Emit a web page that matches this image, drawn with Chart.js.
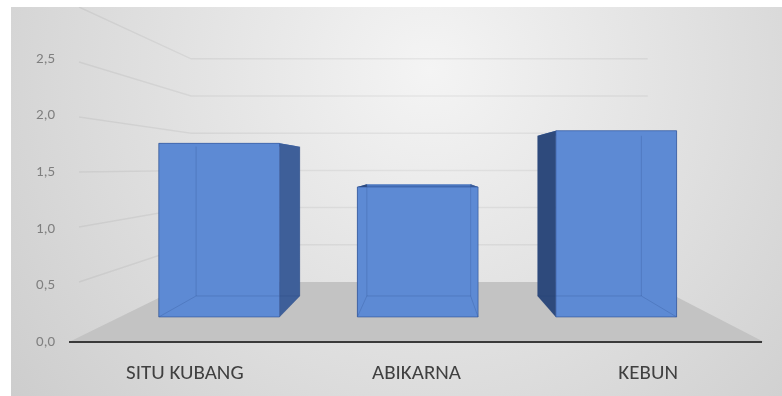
<!DOCTYPE html>
<html>
<head>
<meta charset="utf-8">
<script src="https://cdn.jsdelivr.net/npm/chart.js@4.4.1/dist/chart.umd.min.js"></script>
<style>
	body { margin: 0; background: #fff; }
</style>
</head>
<body>
<canvas id="chart" width="782" height="396"></canvas>
<script>
var categories = ["SITU KUBANG", "ABIKARNA", "KEBUN"];
var values = [1.79, 1.34, 1.92];
var yTicks = [0, 0.5, 1.0, 1.5, 2.0, 2.5];
var wallLines = [0.5, 1.0, 1.5, 2.0, 2.5, 3.0];

// perspective: vanishing point and depth factors (front plane = 1)
var vp = { x : 425, y : 167 };
var floorDepth = 0.657;
var barFront = 0.857;
var barBack = 0.737;

function proj(x, y, s) {
	return [vp.x + s * (x - vp.x), vp.y + s * (y - vp.y)];
}

function poly(ctx, pts, fill) {
	ctx.beginPath();
	ctx.moveTo(pts[0][0], pts[0][1]);
	for (var i = 1; i < pts.length; i++) ctx.lineTo(pts[i][0], pts[i][1]);
	ctx.closePath();
	ctx.fillStyle = fill;
	ctx.fill();
}

var scene = {
	id : "scene",
	beforeDraw : function(chart) {
		var ctx = chart.ctx, area = chart.chartArea, y = chart.scales.y;
		var w = chart.width, h = chart.height;
		ctx.save();
		ctx.fillStyle = "#fff";
		ctx.fillRect(0, 0, w, h);
		var g = ctx.createRadialGradient(430, 70, 0, 430, 70, 560);
		g.addColorStop(0, "#f4f4f4");
		g.addColorStop(1, "#cbcbcb");
		ctx.fillStyle = g;
		ctx.fillRect(11, 7, w - 11, h - 7);

		ctx.beginPath();
		ctx.rect(11, 7, w - 11, h - 7);
		ctx.clip();

		// floor
		var bl = proj(area.left, area.bottom, floorDepth);
		var br = proj(area.right, area.bottom, floorDepth);
		poly(ctx, [[area.left, area.bottom], bl, br, [area.right, area.bottom]], "#c3c3c3");

		// side and back wall grid lines
		ctx.strokeStyle = "rgba(0,0,0,0.055)";
		ctx.lineWidth = 1.5;
		wallLines.forEach(function(v) {
			var py = y.getPixelForValue(v);
			var a = proj(area.left, py, floorDepth), b = proj(area.right, py, floorDepth);
			ctx.beginPath();
			ctx.moveTo(area.left + 10, py + 10 * (a[1] - py) / (a[0] - area.left));
			ctx.lineTo(a[0], a[1]);
			ctx.lineTo(b[0], b[1]);
			ctx.stroke();
		});

		// category axis line
		ctx.strokeStyle = "#3a3a3a";
		ctx.lineWidth = 2;
		ctx.beginPath();
		ctx.moveTo(area.left, area.bottom);
		ctx.lineTo(area.right - 2, area.bottom);
		ctx.stroke();
		ctx.restore();
	},
	afterDatasetsDraw : function(chart) {
		var ctx = chart.ctx;
		var meta = chart.getDatasetMeta(0);
		ctx.save();
		meta.data.forEach(function(bar) {
			var half = bar.width / 2;
			var l = bar.x - half, r = bar.x + half, t = bar.y, b = bar.base;
			var fTL = proj(l, t, barFront), fTR = proj(r, t, barFront);
			var fBL = proj(l, b, barFront), fBR = proj(r, b, barFront);
			var kTL = proj(l, t, barBack), kTR = proj(r, t, barBack);
			var kBL = proj(l, b, barBack), kBR = proj(r, b, barBack);

			// top and sides first, the front face covers what is hidden
			poly(ctx, [fTL, kTL, kTR, fTR], "#4a76bf");
			poly(ctx, [fTR, kTR, kBR, fBR], "#3e5f99");
			poly(ctx, [fTL, kTL, kBL, fBL], "#2e4a7c");
			poly(ctx, [fTL, fTR, fBR, fBL], "#5d8ad4");

			// back edges showing through the front
			ctx.strokeStyle = "rgba(30,60,120,0.2)";
			ctx.lineWidth = 1;
			ctx.beginPath();
			ctx.moveTo(kTL[0], kTL[1]);
			ctx.lineTo(kBL[0], kBL[1]);
			ctx.lineTo(kBR[0], kBR[1]);
			ctx.lineTo(kTR[0], kTR[1]);
			ctx.moveTo(kBL[0], kBL[1]);
			ctx.lineTo(fBL[0], fBL[1]);
			ctx.moveTo(kBR[0], kBR[1]);
			ctx.lineTo(fBR[0], fBR[1]);
			ctx.stroke();

			ctx.strokeStyle = "rgba(45,80,150,0.6)";
			ctx.beginPath();
			ctx.moveTo(fTL[0], fTL[1]);
			ctx.lineTo(fTR[0], fTR[1]);
			ctx.lineTo(fBR[0], fBR[1]);
			ctx.lineTo(fBL[0], fBL[1]);
			ctx.closePath();
			ctx.stroke();
		});
		ctx.restore();
	}
};

var font = "Carlito, 'Liberation Sans Narrow', 'Open Sans', sans-serif";

var chart = new Chart(document.getElementById("chart"), {
	type : "bar",
	data : {
		labels : categories,
		datasets : [
			{
				data : values,
				backgroundColor : "rgba(0,0,0,0)",
				barPercentage : 0.608,
				categoryPercentage : 1
			}
		]
	},
	options : {
		responsive : false,
		animation : false,
		layout : { padding : { top : 59, right : 18, left : 0, bottom : 0 } },
		plugins : {
			legend : { display : false },
			tooltip : { enabled : false }
		},
		scales : {
			x : {
				grid : { display : false },
				border : { display : false },
				ticks : {
					padding : 11,
					color : "#404040",
					font : { family : font, size : 21 }
				},
				afterFit : function(scale) { scale.height = 54; }
			},
			y : {
				min : 0,
				max : 2.5,
				grid : { display : false },
				border : { display : false },
				afterBuildTicks : function(scale) {
					scale.ticks = yTicks.map(function(v) { return { value : v }; });
				},
				ticks : {
					padding : 6,
					color : "#7f7f7f",
					font : { family : font, size : 15 },
					callback : function(v) { return v.toFixed(1).replace(".", ","); }
				},
				afterFit : function(scale) { scale.width = 69; }
			}
		}
	},
	plugins : [scene]
});
</script>
</body>
</html>
